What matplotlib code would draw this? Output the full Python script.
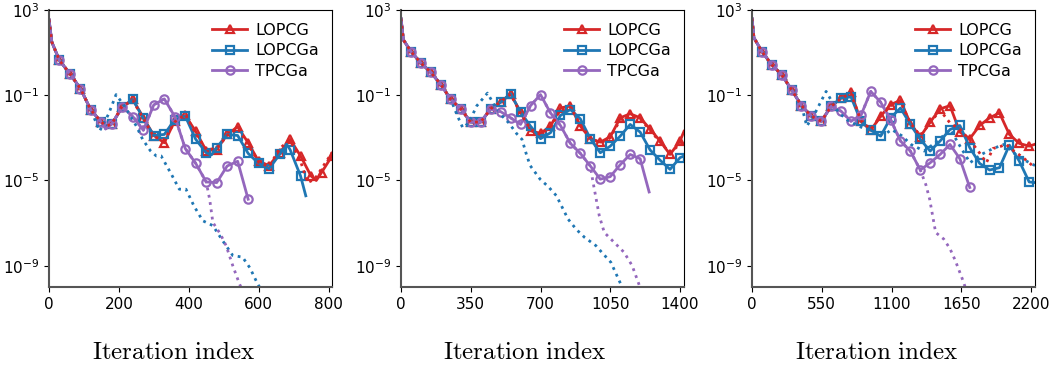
import numpy as np
import matplotlib
matplotlib.use("Agg")
import matplotlib.pyplot as plt

plt.rcParams['mathtext.fontset'] = 'cm'

RED = '#d62728'
BLUE = '#1f77b4'
PURPLE = '#9467bd'

# ---- panel 1 (markers every 30 iterations), values are log10 of the residual
p1_head_it = [0, 8, 30, 60, 90, 120, 150]
p1_head_lg = [2.55, 1.5, 0.63, 0.01, -0.69, -1.70, -2.26]

p1_red_it = p1_head_it + [165, 180, 210, 240, 270, 300, 330, 360, 390, 420, 450, 480, 510, 540,
                          570, 600, 630, 660, 690, 720, 750, 765, 780, 810]
p1_red_lg = p1_head_lg + [-2.45, -2.34, -1.55, -1.2, -2.05, -2.89, -3.23, -2.2, -1.95, -2.7, -3.6,
                          -3.55, -2.84, -2.48, -3.23, -4.1, -4.3, -3.7, -3.07, -3.85, -4.79, -5.0,
                          -4.63, -3.85]
p1_red_dot_it = p1_head_it + [165, 180, 210, 240, 270, 300, 330, 360, 390, 420, 450, 480, 510, 540,
                              570, 600, 630, 660, 690, 720, 740, 760, 790, 810]
p1_red_dot_lg = p1_head_lg + [-2.45, -2.34, -1.5, -1.25, -2.1, -2.95, -3.1, -2.25, -1.9, -2.8, -3.55,
                              -3.5, -2.9, -2.55, -3.3, -4.15, -4.35, -3.5, -3.1, -4.1, -5.1, -4.95,
                              -4.2, -3.7]

p1_blue_it = p1_head_it + [165, 180, 210, 240, 270, 300, 330, 360, 390, 420, 450, 465, 480, 510,
                           540, 570, 600, 630, 660, 680, 690, 720, 735]
p1_blue_lg = p1_head_lg + [-2.45, -2.34, -1.55, -1.2, -2.09, -2.89, -2.84, -2.14, -1.98, -3.07, -3.7,
                           -3.8, -3.46, -2.84, -2.89, -3.73, -4.2, -4.45, -3.78, -3.3, -3.55, -4.79,
                           -5.72]
p1_blue_dot_it = p1_head_it[:-1] + [145, 170, 192, 220, 250, 268, 290, 307, 321, 350, 373, 392, 415,
                                    440, 469, 500, 526, 554, 575, 597, 610]
p1_blue_dot_lg = p1_head_lg[:-1] + [-2.68, -1.9, -0.97, -1.6, -2.45, -3.07, -3.6, -3.85, -3.85, -4.7,
                                    -5.41, -5.41, -6.2, -6.89, -7.12, -7.9, -8.52, -8.6, -9.1, -9.85,
                                    -10.2]

p1_purple_it = p1_head_it + [162, 180, 210, 240, 270, 300, 330, 360, 390, 420, 450, 480, 510, 540, 570]
p1_purple_lg = p1_head_lg + [-2.58, -2.34, -1.55, -2.0, -2.64, -1.45, -1.17, -2.0, -3.5, -4.2, -5.07,
                             -5.1, -4.32, -4.1, -5.88]
p1_purple_dot_it = p1_purple_it[:18] + [460, 469, 490, 507, 526, 545, 555]
p1_purple_dot_lg = p1_purple_lg[:18] + [-5.9, -6.97, -7.5, -8.06, -9.0, -9.85, -10.2]

# ---- panel 2 (markers every 50 iterations)
p2_head_it = [0, 12, 50, 100, 150, 200, 250, 300, 350, 400, 450]
p2_head_lg = [2.6, 1.6, 1.05, 0.51, 0.07, -0.5, -1.2, -1.64, -2.26, -2.26, -1.64]

p2_red_it = p2_head_it + [500, 550, 600, 650, 700, 750, 800, 850, 900, 950, 1000, 1050, 1100, 1150,
                          1200, 1250, 1300, 1350, 1400, 1420]
p2_red_lg = p2_head_lg + [-1.33, -0.93, -1.8, -2.67, -2.79, -2.45, -1.6, -1.5, -2.45, -3.04, -3.2,
                          -2.95, -2.06, -1.87, -2.06, -2.59, -3.15, -3.78, -3.15, -2.69]
p2_red_dot_it = p2_red_it
p2_red_dot_lg = p2_head_lg + [-1.3, -0.95, -1.85, -2.6, -2.85, -2.5, -1.7, -1.55, -2.4, -3.0, -3.25,
                              -3.0, -2.15, -1.95, -2.1, -2.65, -3.2, -3.7, -3.3, -3.1]

p2_blue_it = p2_red_it
p2_blue_lg = p2_head_lg + [-1.33, -0.93, -1.8, -2.45, -3.04, -2.76, -1.95, -1.67, -2.11, -3.04, -3.7,
                           -3.39, -2.92, -2.37, -2.73, -3.57, -4.05, -4.48, -3.93, -3.85]
p2_blue_dot_it = p2_head_it[:7] + [280, 310, 340, 380, 434, 470, 510, 541, 580, 607, 630, 648, 698,
                                   740, 780, 838, 880, 921, 978, 1010, 1053, 1102, 1115]
p2_blue_dot_lg = p2_head_lg[:7] + [-1.9, -2.53, -2.3, -1.5, -0.9, -1.5, -2.0, -2.3, -2.8, -3.07, -3.8,
                                   -4.3, -4.94, -5.3, -5.72, -6.81, -7.3, -7.67, -8.06, -8.4, -8.84,
                                   -9.85, -10.2]

p2_purple_it = p2_head_it + [500, 550, 600, 650, 700, 750, 800, 850, 900, 950, 1000, 1050, 1100,
                             1150, 1200, 1245]
p2_purple_lg = p2_head_lg + [-1.77, -2.06, -2.37, -1.49, -0.97, -1.83, -2.42, -3.26, -3.73, -4.32,
                             -4.94, -4.82, -4.26, -3.78, -3.98, -5.54]
p2_purple_dot_it = p2_purple_it[:21] + [962, 995, 1020, 1069, 1119, 1160, 1193, 1205]
p2_purple_dot_lg = p2_purple_lg[:21] + [-5.0, -6.66, -7.44, -7.9, -8.37, -9.0, -9.85, -10.2]

# ---- panel 3 (markers every 78 iterations)
p3_head_it = [0, 15, 78, 156, 234, 312, 390, 468, 546, 624]
p3_head_lg = [2.6, 1.7, 1.05, 0.43, -0.04, -0.74, -1.49, -1.98, -2.22, -1.52]

p3_red_it = p3_head_it + [702, 780, 858, 936, 1014, 1092, 1170, 1248, 1326, 1404, 1482, 1560, 1638,
                          1716, 1794, 1872, 1950, 2028, 2106, 2184, 2230]
p3_red_lg = p3_head_lg + [-1.13, -0.86, -2.22, -2.64, -1.98, -1.44, -1.24, -2.33, -2.95, -2.26,
                          -1.64, -1.49, -2.73, -3.04, -2.42, -2.06, -1.83, -2.84, -3.26, -3.39, -3.3]
p3_red_dot_it = p3_head_it + [702, 780, 858, 936, 1014, 1092, 1170, 1248, 1326, 1404, 1482, 1560,
                              1638, 1716, 1780, 1847, 1899, 1960, 2000, 2060, 2130, 2230]
p3_red_dot_lg = p3_head_lg + [-1.15, -0.9, -2.2, -2.6, -2.0, -1.5, -1.3, -2.3, -2.9, -2.3, -1.7,
                              -2.3, -2.6, -3.1, -3.6, -4.17, -3.5, -3.4, -3.3, -3.6, -3.9, -4.4]

p3_blue_it = p3_red_it
p3_blue_lg = p3_head_lg + [-1.13, -1.08, -2.22, -2.64, -2.92, -2.06, -1.6, -2.37, -3.07, -3.62,
                           -3.15, -2.61, -2.42, -3.46, -4.2, -4.51, -4.4, -3.34, -4.09, -5.07, -5.1]
p3_blue_dot_it = p3_head_it[:7] + [432, 500, 584, 640, 685, 760, 860, 950, 1046, 1100, 1180, 1253,
                                   1357, 1450, 1563, 1640, 1718, 1800, 1900, 1990, 2100, 2230]
p3_blue_dot_lg = p3_head_lg[:7] + [-2.45, -1.8, -0.82, -1.4, -1.83, -2.2, -2.5, -2.7, -2.84, -2.61,
                                   -2.9, -3.31, -3.62, -3.2, -2.61, -3.4, -4.17, -3.8, -3.5, -3.3,
                                   -3.9, -4.3]

p3_purple_it = p3_head_it + [702, 780, 858, 936, 1014, 1092, 1170, 1248, 1326, 1404, 1482, 1560,
                             1638, 1716]
p3_purple_lg = p3_head_lg + [-1.75, -2.22, -1.95, -0.82, -1.33, -2.14, -3.15, -3.62, -4.51, -4.17,
                             -3.78, -3.31, -3.98, -5.33]
p3_purple_dot_it = p3_purple_it[:19] + [1370, 1400, 1447, 1511, 1560, 1602, 1667, 1690]
p3_purple_dot_lg = p3_purple_lg[:19] + [-5.2, -5.88, -7.44, -7.75, -8.2, -8.76, -9.77, -10.2]

panels = [
    dict(step=30, xmax=810, xticks=[0, 200, 400, 600, 800],
         red=(p1_red_it, p1_red_lg), red_dot=(p1_red_dot_it, p1_red_dot_lg),
         blue=(p1_blue_it, p1_blue_lg), blue_dot=(p1_blue_dot_it, p1_blue_dot_lg),
         purple=(p1_purple_it, p1_purple_lg), purple_dot=(p1_purple_dot_it, p1_purple_dot_lg)),
    dict(step=50, xmax=1420, xticks=[0, 350, 700, 1050, 1400],
         red=(p2_red_it, p2_red_lg), red_dot=(p2_red_dot_it, p2_red_dot_lg),
         blue=(p2_blue_it, p2_blue_lg), blue_dot=(p2_blue_dot_it, p2_blue_dot_lg),
         purple=(p2_purple_it, p2_purple_lg), purple_dot=(p2_purple_dot_it, p2_purple_dot_lg)),
    dict(step=78, xmax=2230, xticks=[0, 550, 1100, 1650, 2200],
         red=(p3_red_it, p3_red_lg), red_dot=(p3_red_dot_it, p3_red_dot_lg),
         blue=(p3_blue_it, p3_blue_lg), blue_dot=(p3_blue_dot_it, p3_blue_dot_lg),
         purple=(p3_purple_it, p3_purple_lg), purple_dot=(p3_purple_dot_it, p3_purple_dot_lg)),
]

styles = [('red', RED, '^', 'LOPCG'), ('blue', BLUE, 's', 'LOPCGa'), ('purple', PURPLE, 'o', 'TPCGa')]


def marker_idx(it, step):
    return [i for i, t in enumerate(it) if t > 0 and t % step == 0]


fig = plt.figure(figsize=(10.54, 3.70), dpi=100)
lefts = [49, 401, 752]
label_x = [174, 525, 877]

for k, p in enumerate(panels):
    ax = fig.add_axes([lefts[k] / 1054, 1 - 287 / 370, 283 / 1054, 277 / 370])
    for key, c, m, name in styles:
        it, lg = p[key]
        ax.plot(it, 10.0 ** np.array(lg), color=c, lw=2, marker=m, ms=6, mfc='none', mew=1.6,
                markevery=marker_idx(it, p['step']), label=name)
    for key, c, m, name in [styles[1], styles[2], styles[0]]:
        it, lg = p[key + '_dot']
        ax.plot(it, 10.0 ** np.array(lg), color=c, lw=2, ls=':')

    ax.set_yscale('log')
    ax.set_ylim(1e-10, 1e3)
    ax.set_xlim(0, p['xmax'])
    ax.set_yticks([1e3, 1e-1, 1e-5, 1e-9])
    ax.yaxis.set_minor_locator(matplotlib.ticker.NullLocator())
    ax.set_xticks(p['xticks'])
    ax.tick_params(labelsize=11, length=3.5, width=0.8)
    for s in ['left', 'bottom']:
        ax.spines[s].set_color('#555555')
        ax.spines[s].set_linewidth(1.5)
    for s in ['top', 'right']:
        ax.spines[s].set_linewidth(0.8)
    ax.legend(loc='upper right', frameon=False, fontsize=11.5, handlelength=2.2,
              handletextpad=0.5, borderaxespad=0.4, labelspacing=0.35)
    fig.text(label_x[k] / 1054, 1 - 352 / 370, r'$\mathrm{Iteration\ index}$',
             ha='center', va='center', fontsize=18)

fig.savefig('out.png', dpi=100)
